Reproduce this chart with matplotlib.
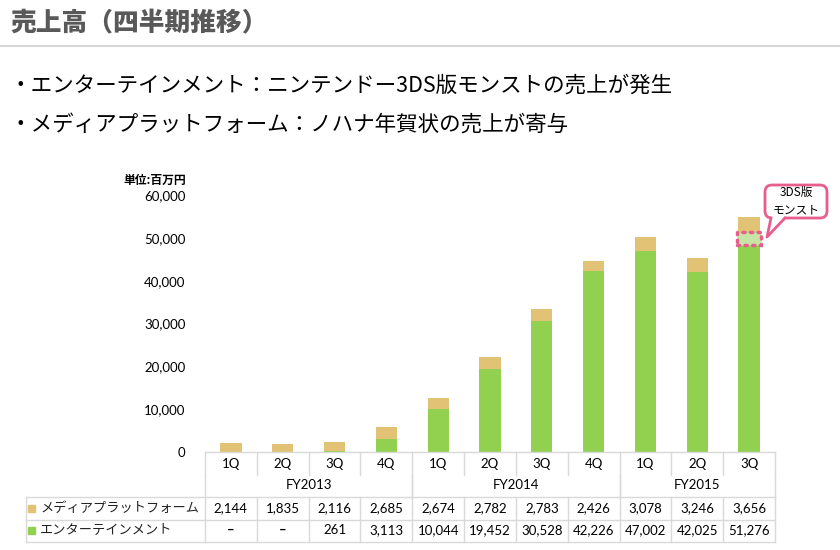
import matplotlib.pyplot as plt
import matplotlib.transforms as mtransforms
from matplotlib.patches import FancyBboxPatch, Rectangle, Polygon
import numpy as np

# data (百万円)
quarters = ['1Q', '2Q', '3Q', '4Q', '1Q', '2Q', '3Q', '4Q', '1Q', '2Q', '3Q']
years = ['FY2013', 'FY2014', 'FY2015']
year_span = [(0, 3), (4, 7), (8, 10)]
media = [2144, 1835, 2116, 2685, 2674, 2782, 2783, 2426, 3078, 3246, 3656]
ent = [0, 0, 261, 3113, 10044, 19452, 30528, 42226, 47002, 42025, 51276]
ds_part = 3000  # 3DS版モンスト portion of the last quarter (estimated)
series_names = ['メディアプラットフォーム', 'エンターテインメント']

c_media = '#E2C275'
c_ent = '#92D050'
c_grid = '#D9D9D9'
c_pink = '#E75D8E'

jp = ['Noto Sans CJK JP', 'DejaVu Sans']
num = ['Lato', 'DejaVu Sans']

fig = plt.figure(figsize=(8.4, 5.5), dpi=100)

# overlay in pixel coordinates
ov = fig.add_axes([0, 0, 1, 1])
ov.set_xlim(0, 840)
ov.set_ylim(550, 0)
ov.axis('off')

ax = fig.add_axes([205 / 840, 98 / 550, 570 / 840, 257 / 550])
ax.patch.set_alpha(0)
x = np.arange(len(quarters))
ax.bar(x, ent, width=0.41, color=c_ent, zorder=2)
ax.bar(x, media, width=0.41, bottom=ent, color=c_media, zorder=2)
ax.set_xlim(-0.5, len(quarters) - 0.5)
ax.set_ylim(0, 60000)
ax.set_yticks(range(0, 60001, 10000))
ax.set_yticklabels([f'{v:,}' for v in range(0, 60001, 10000)],
                   fontsize=9.5, family=num)
ax.tick_params(axis='y', length=0, pad=14)
ax.set_xticks([])
for s in ax.spines.values():
    s.set_visible(False)

# 3DS highlight
last = len(quarters) - 1
ax.add_patch(Rectangle((last - 0.225, ent[last] - ds_part), 0.45, ds_part,
                       facecolor='#C8E3A6', edgecolor=c_pink, lw=2.5,
                       linestyle=(0, (0.6, 1.6)), capstyle='round', zorder=3))

# header texts
ov.text(10, 23, '売上高（四半期推移）', fontsize=18.5, fontweight='heavy',
        color='#595959', family=jp, va='center')
ov.plot([0, 840], [46, 46], color='#D0D0D0', lw=1.2)
ov.text(10, 86, '・エンターテインメント：ニンテンドー3DS版モンストの売上が発生',
        fontsize=15.5, family=jp, va='center')
ov.text(10, 126, '・メディアプラットフォーム：ノハナ年賀状の売上が寄与',
        fontsize=15.5, family=jp, va='center')
ov.text(186, 180, '単位:百万円', fontsize=8.5, fontweight='bold', family=jp,
        ha='right', va='center')

# callout
ov.add_patch(FancyBboxPatch((765, 185), 62, 33,
                            boxstyle='round,pad=0,rounding_size=7',
                            facecolor='white', edgecolor=c_pink, lw=2, zorder=5))
ov.add_patch(Polygon([(771, 216), (785, 216), (767, 237)], closed=True,
                     facecolor='white', edgecolor='none', zorder=6))
ov.plot([771, 767, 785], [218, 237, 218], color=c_pink, lw=2, zorder=6,
        solid_joinstyle='round')
ov.text(796, 201, '3DS版\nモンスト', fontsize=8.5, family=jp, ha='center',
        va='center', linespacing=1.4, zorder=7)

# table
tr = mtransforms.blended_transform_factory(ax.transData, ov.transData)
lkw = dict(color=c_grid, lw=1, transform=tr, clip_on=False)
n = len(quarters)
ax.plot([-0.5, n - 0.5], [452, 452], **lkw)
for i in range(n + 1):
    xb = i - 0.5
    ax.plot([xb, xb], [452, 475], **lkw)
    ax.plot([xb, xb], [497, 542], **lkw)
for a, b in year_span:
    for xb in (a - 0.5, b + 0.5):
        ax.plot([xb, xb], [475, 497], **lkw)
for yy in (497, 520, 542):
    ov.plot([26, 205], [yy, yy], color=c_grid, lw=1)
    ax.plot([-0.5, n - 0.5], [yy, yy], **lkw)
ov.plot([26, 26], [497, 542], color=c_grid, lw=1)

for i, q in enumerate(quarters):
    ax.text(i, 464, q, transform=tr, ha='center', va='center',
            fontsize=9.5, family=num)
    ax.text(i, 508, f'{media[i]:,}', transform=tr, ha='center', va='center',
            fontsize=9.5, family=num)
    ax.text(i, 530, f'{ent[i]:,}' if ent[i] else '–', transform=tr,
            ha='center', va='center', fontsize=9.5, family=num,
            fontweight='bold' if not ent[i] else 'normal')
for yname, (a, b) in zip(years, year_span):
    ax.text((a + b) / 2, 485, yname, transform=tr, ha='center', va='center',
            fontsize=9.5, family=num)

for yy, name, col in ((508, series_names[0], c_media), (530, series_names[1], c_ent)):
    ov.add_patch(Rectangle((28, yy - 3.5), 7, 7, color=col))
    ov.text(40, yy, name, fontsize=9.5, family=jp, va='center', color='#222222')

fig.savefig('out.png', dpi=100)
